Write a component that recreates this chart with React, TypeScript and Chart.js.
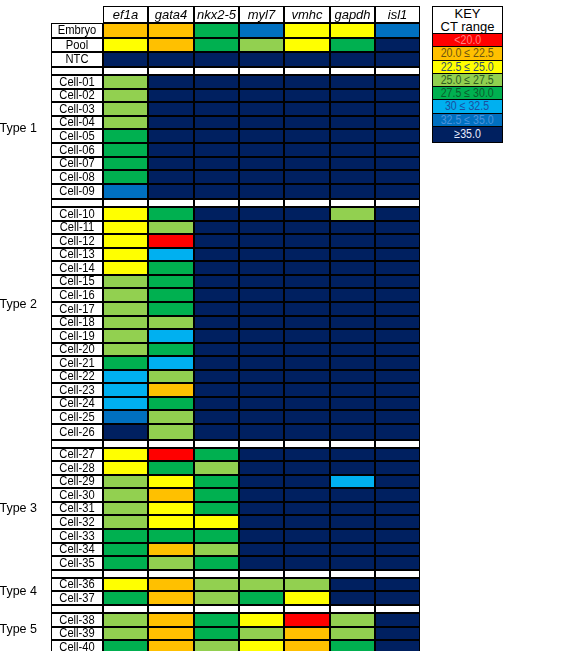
import { useEffect, useRef } from 'react';
import { Chart, registerables } from 'chart.js';

Chart.register(...registerables);

// CT range classes (index 0 = lowest CT)
const KEY_LABELS = ['<20.0', '20.0 ≤ 22.5', '22.5 ≤ 25.0', '25.0 ≤ 27.5', '27.5 ≤ 30.0', '30 ≤ 32.5', '32.5 ≤ 35.0', '≥35.0'];
const KEY_COLORS = ['#ff0000', '#ffc000', '#ffff00', '#92d050', '#00b050', '#00b0f0', '#0070c0', '#002060'];
const KEY_TEXT = ['#ff8080', '#6b5410', '#2f4f6f', '#2e5e22', '#0b5e2c', '#1d4fa0', '#4b94de', '#e8ecff'];

const GENES = ['ef1a', 'gata4', 'nkx2-5', 'myl7', 'vmhc', 'gapdh', 'isl1'];

const CONTROLS = ['Embryo', 'Pool', 'NTC'];
const GROUPS = ['Type 1', 'Type 2', 'Type 3', 'Type 4', 'Type 5'];
const TYPE1 = ['Cell-01', 'Cell-02', 'Cell-03', 'Cell-04', 'Cell-05', 'Cell-06', 'Cell-07', 'Cell-08', 'Cell-09'];
const TYPE2 = ['Cell-10', 'Cell-11', 'Cell-12', 'Cell-13', 'Cell-14', 'Cell-15', 'Cell-16', 'Cell-17', 'Cell-18',
  'Cell-19', 'Cell-20', 'Cell-21', 'Cell-22', 'Cell-23', 'Cell-24', 'Cell-25', 'Cell-26'];
const TYPE3 = ['Cell-27', 'Cell-28', 'Cell-29', 'Cell-30', 'Cell-31', 'Cell-32', 'Cell-33', 'Cell-34', 'Cell-35'];
const TYPE4 = ['Cell-36', 'Cell-37'];
const TYPE5 = ['Cell-38', 'Cell-39', 'Cell-40'];
const GROUP_CELLS = [TYPE1, TYPE2, TYPE3, TYPE4, TYPE5];

// CT class per sample (Embryo, Pool, NTC, then Cell-01 … Cell-40)
const EF1A = [1, 2, 7,
  3, 3, 3, 3, 4, 4, 4, 4, 6,
  2, 2, 2, 2, 2, 3, 3, 3, 3, 3, 3, 4, 5, 5, 5, 6, 7,
  2, 2, 3, 3, 3, 3, 4, 4, 4,
  2, 4,
  3, 3, 4];
const GATA4 = [1, 1, 7,
  7, 7, 7, 7, 7, 7, 7, 7, 7,
  4, 3, 0, 5, 4, 4, 4, 4, 3, 5, 4, 5, 3, 1, 4, 3, 3,
  0, 4, 2, 1, 2, 2, 4, 1, 3,
  1, 1,
  1, 1, 1];
const NKX2_5 = [4, 4, 7,
  7, 7, 7, 7, 7, 7, 7, 7, 7,
  7, 7, 7, 7, 7, 7, 7, 7, 7, 7, 7, 7, 7, 7, 7, 7, 7,
  4, 3, 4, 4, 4, 2, 4, 3, 4,
  3, 3,
  4, 4, 3];
const MYL7 = [6, 3, 7,
  7, 7, 7, 7, 7, 7, 7, 7, 7,
  7, 7, 7, 7, 7, 7, 7, 7, 7, 7, 7, 7, 7, 7, 7, 7, 7,
  7, 7, 7, 7, 7, 7, 7, 7, 7,
  3, 4,
  2, 3, 2];
const VMHC = [2, 2, 7,
  7, 7, 7, 7, 7, 7, 7, 7, 7,
  7, 7, 7, 7, 7, 7, 7, 7, 7, 7, 7, 7, 7, 7, 7, 7, 7,
  7, 7, 7, 7, 7, 7, 7, 7, 7,
  3, 2,
  0, 1, 1];
const GAPDH = [2, 4, 7,
  7, 7, 7, 7, 7, 7, 7, 7, 7,
  3, 7, 7, 7, 7, 7, 7, 7, 7, 7, 7, 7, 7, 7, 7, 7, 7,
  7, 7, 5, 7, 7, 7, 7, 7, 7,
  7, 7,
  3, 3, 4];
const ISL1 = [6, 7, 7,
  7, 7, 7, 7, 7, 7, 7, 7, 7,
  7, 7, 7, 7, 7, 7, 7, 7, 7, 7, 7, 7, 7, 7, 7, 7, 7,
  7, 7, 7, 7, 7, 7, 7, 7, 7,
  7, 7,
  7, 7, 7];
const CT_CLASS = [EF1A, GATA4, NKX2_5, MYL7, VMHC, GAPDH, ISL1];

// ---- layout (pixel units on both scales) ----
const FONT = '"Liberation Sans", Arial, Helvetica, sans-serif';
const CANVAS_W = 430;
const CANVAS_H = 680;
const AXIS_W = 51;
const PAD_TOP = 6;
const LABEL_W = 52;
const COL_W = 45.3;
const HEADER_H = 17;
const CONTROL_H = 14.7;
const ROW_H = 13.55;
const GAP_H = 8.2;
const TALL_ROWS: Record<string, number> = { 'Cell-09': 15.2, 'Cell-26': 15.6 };
const GROUP_LABEL_AT = [0.43, 0.42, 0.5, 0.52, 0.4];
const Y_MAX = CANVAS_H - PAD_TOP;

// Column edges snapped to whole pixels so vertical borders stay crisp
const colEdges = Array.from({ length: GENES.length + 1 }, (_, i) => Math.round(LABEL_W + COL_W * i));
const TABLE_W = colEdges[GENES.length];
const colCenter = (i: number) => (colEdges[i] + colEdges[i + 1]) / 2;
const colWidth = (i: number) => colEdges[i + 1] - colEdges[i];

type Row = { kind: 'head' | 'sample' | 'gap'; label: string; top: number; bottom: number; sample: number };

// Row bands, snapped to whole pixels as well
const rows: Row[] = [];
const groupAnchors: number[] = [];
{
  let y = 0;
  const push = (kind: Row['kind'], label: string, h: number, sample: number) => {
    rows.push({ kind, label, top: Math.round(y), bottom: Math.round(y + h), sample });
    y += h;
  };
  push('head', '', HEADER_H, -1);
  let s = 0;
  CONTROLS.forEach((c) => push('sample', c, CONTROL_H, s++));
  GROUP_CELLS.forEach((cells, gi) => {
    push('gap', '', GAP_H, -1);
    const start = y;
    cells.forEach((c) => push('sample', c, TALL_ROWS[c] ?? ROW_H, s++));
    groupAnchors.push(start + (y - start) * GROUP_LABEL_AT[gi]);
  });
}

const cellText = {
  id: 'cellText',
  afterDatasetsDraw(chart: any) {
    const { ctx, scales } = chart;
    const xs = scales.x;
    const ys = scales.y;
    ctx.save();
    ctx.fillStyle = '#000';
    ctx.textAlign = 'center';
    ctx.textBaseline = 'middle';
    rows.forEach((r) => {
      const cy = ys.getPixelForValue((r.top + r.bottom) / 2) + 0.5;
      if (r.kind === 'head') {
        ctx.font = `italic 13px ${FONT}`;
        GENES.forEach((g, i) => ctx.fillText(g, xs.getPixelForValue(colCenter(i)), cy));
      } else if (r.kind === 'sample') {
        ctx.font = `12px ${FONT}`;
        ctx.save();
        ctx.translate(xs.getPixelForValue(LABEL_W / 2), cy);
        ctx.scale(0.93, 1);
        ctx.fillText(r.label, 0, 0);
        ctx.restore();
      }
    });
    ctx.restore();
  },
};

const barCommon = {
  borderColor: '#000',
  borderWidth: 1,
  borderSkipped: false,
  grouped: false,
  inflateAmount: 0,
};

function buildDatasets() {
  const labelRows = rows.filter((r) => r.kind !== 'head');
  const labelSet = {
    ...barCommon,
    label: 'sample',
    barThickness: LABEL_W,
    data: labelRows.map((r) => ({ x: LABEL_W / 2, y: [r.top, r.bottom] })),
    backgroundColor: labelRows.map(() => '#ffffff'),
  };
  const geneSets = GENES.map((g, gi) => ({
    ...barCommon,
    label: g,
    barThickness: colWidth(gi),
    data: rows.map((r) => ({ x: colCenter(gi), y: [r.top, r.bottom] })),
    backgroundColor: rows.map((r) => (r.kind === 'sample' ? KEY_COLORS[CT_CLASS[gi][r.sample]] : '#ffffff')),
  }));
  return [labelSet, ...geneSets];
}

export default function App() {
  const ref = useRef<HTMLCanvasElement>(null);

  useEffect(() => {
    const chart = new Chart(ref.current as HTMLCanvasElement, {
      type: 'bar',
      data: { datasets: buildDatasets() as any },
      options: {
        animation: false,
        responsive: false,
        events: [],
        layout: { padding: { top: PAD_TOP, left: 0, bottom: 0, right: CANVAS_W - AXIS_W - TABLE_W } },
        plugins: { legend: { display: false }, tooltip: { enabled: false } },
        scales: {
          x: { type: 'linear', display: false, min: 0, max: TABLE_W, offset: false, bounds: 'data' },
          y: {
            type: 'linear',
            reverse: true,
            min: 0,
            max: Y_MAX,
            bounds: 'data',
            grid: { display: false, drawTicks: false },
            border: { display: false },
            afterBuildTicks: (scale: any) => {
              scale.ticks = groupAnchors.map((v) => ({ value: v }));
            },
            afterFit: (scale: any) => {
              // fixed axis width; the group labels sit well inside the plot height
              scale.width = AXIS_W;
              scale.paddingTop = 0;
              scale.paddingBottom = 0;
            },
            ticks: {
              autoSkip: false,
              padding: 14,
              color: '#000',
              font: { family: FONT, size: 12.5 },
              callback: (_v: any, i: number) => GROUPS[i],
            },
          },
        },
      } as any,
      plugins: [cellText],
    });
    return () => chart.destroy();
  }, []);

  return (
    <div style={{ position: 'absolute', left: 0, top: 0, width: 570, height: 651, overflow: 'hidden', background: '#fff' }}>
      <canvas
        ref={ref}
        width={CANVAS_W}
        height={CANVAS_H}
        style={{ position: 'absolute', left: 0, top: 0, width: CANVAS_W, height: CANVAS_H }}
      />
      <div
        style={{
          position: 'absolute',
          left: 432,
          top: 6,
          width: 69,
          border: '1px solid #000',
          background: '#fff',
          fontFamily: FONT,
          color: '#000',
        }}
      >
        <div style={{ height: 26, textAlign: 'center', fontSize: 13, lineHeight: '13px' }}>
          KEY
          <br />
          CT range
        </div>
        {KEY_LABELS.map((label, i) => {
          const h = i === KEY_LABELS.length - 1 ? 15 : 12.3;
          return (
            <div
              key={label}
              style={{
                height: h,
                borderTop: '1px solid #000',
                background: KEY_COLORS[i],
                color: KEY_TEXT[i],
                textAlign: 'center',
                fontSize: 12.5,
                lineHeight: `${h}px`,
                whiteSpace: 'nowrap',
                overflow: 'hidden',
              }}
            >
              <span style={{ display: 'inline-block', transform: 'scaleX(0.85)' }}>{label}</span>
            </div>
          );
        })}
      </div>
    </div>
  );
}
